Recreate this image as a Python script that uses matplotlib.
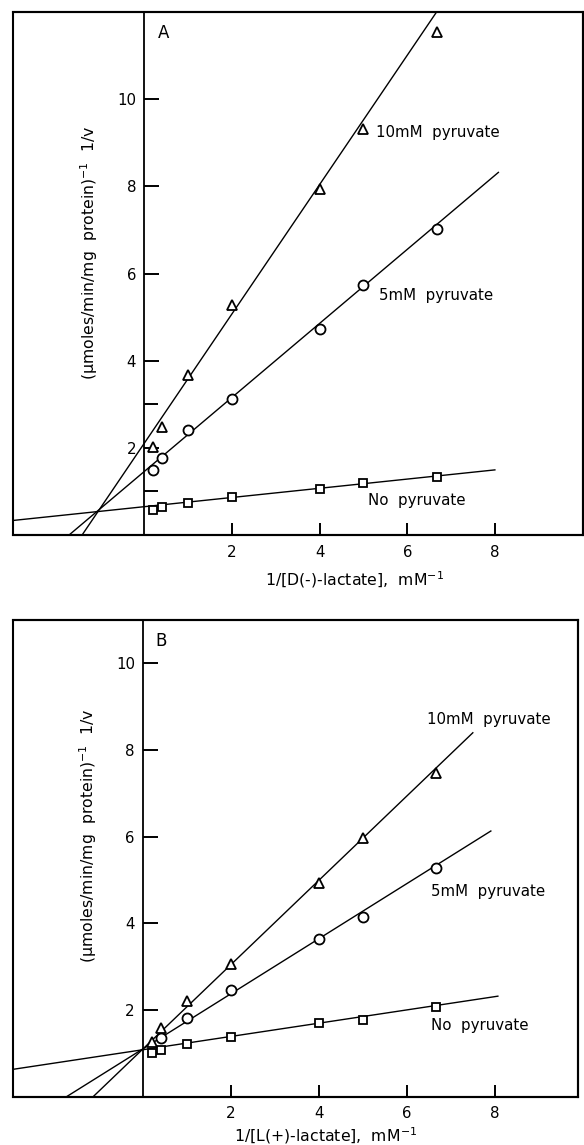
import matplotlib
matplotlib.use("Agg")
import matplotlib.pyplot as plt
import matplotlib.transforms as mtransforms
from matplotlib.patches import Rectangle
import numpy as np

plt.rcParams['font.family'] = ['DejaVu Sans']
plt.rcParams['mathtext.fontset'] = 'dejavusans'

# ---------------- data ----------------
# Panel A : D(-)-lactate
xA = [0.2, 0.4, 1, 2, 4, 5, 6.67]
A_none = [0.58, 0.65, 0.745, 0.87, 1.06, 1.19, 1.33]
A_5mM = [1.48, 1.77, 2.41, 3.11, 4.73, 5.73, 7.02]
A_10mM = [2.02, 2.48, 3.67, 5.27, 7.95, 9.31, 11.54]
A_slope = [0.1055, 0.849, 1.483]
A_intercept = [0.65, 1.46, 2.11]
A_line_start = [-3.0, -1.72, -1.42]
A_line_end = [8.0, 8.08, 6.67]

# Panel B : L(+)-lactate
xB = [0.2, 0.4, 1, 2, 4, 5, 6.67]
xB5 = [0.4, 1, 2, 4, 5, 6.67]
B_none = [1.0, 1.08, 1.22, 1.37, 1.69, 1.78, 2.08]
B_5mM = [1.35, 1.82, 2.46, 3.64, 4.15, 5.27]
B_10mM = [1.27, 1.58, 2.21, 3.06, 4.93, 5.96, 7.48]
B_slope = [0.153, 0.635, 0.972]
B_intercept = [1.085, 1.108, 1.108]
B_line_start = [-3.0, -1.745, -1.14]
B_line_end = [8.07, 7.91, 7.50]

series_labels = ["No  pyruvate", "5mM  pyruvate", "10mM  pyruvate"]
xticks = [2, 4, 6, 8]
yticks = [2, 4, 6, 8, 10]
ylabel = "(μmoles/min/mg  protein)$^{-1}$  1/v"

FS = 10.8
LFS = 11.3
fig = plt.figure(figsize=(5.84, 11.45), dpi=100)


def panel(rect, xlim, ylim, xs_list, ys_list, slopes, inters, starts, ends,
          letter, letter_pos, label_pos, xlabel, xlabel_x, xlabel_y,
          ylabel_pos, minor_y):
    ax = fig.add_axes(rect)
    ax.set_xlim(*xlim)
    ax.set_ylim(*ylim)
    ax.spines['left'].set_position(('data', 0))
    ax.spines['left'].set_linewidth(1.3)
    for s in ['top', 'right', 'bottom']:
        ax.spines[s].set_linewidth(1.5)
    ax.add_patch(Rectangle((0, 0), 1, 1, transform=ax.transAxes, fill=False,
                           lw=1.5, ec='black', clip_on=False, zorder=5))
    ax.set_xticks(xticks)
    ax.set_yticks(yticks)
    if minor_y:
        ax.set_yticks(minor_y, minor=True)
    ax.tick_params(axis='x', direction='in', length=9, width=1.4, pad=7,
                   labelsize=FS, top=False)
    ax.tick_params(axis='y', direction='in', length=11, width=1.4, pad=6,
                   labelsize=FS, right=False)
    ax.tick_params(axis='y', which='minor', direction='in', length=10,
                   width=1.4)
    markers = ['s', 'o', '^']
    msizes = [5.2, 7.2, 7.6]
    for i in range(3):
        lx = np.array([starts[i], ends[i]])
        ax.plot(lx, slopes[i] * lx + inters[i], color='black', lw=1.0,
                zorder=2)
        ax.plot(xs_list[i], ys_list[i], linestyle='none', marker=markers[i],
                ms=msizes[i], mfc='white', mec='black', mew=1.3, zorder=3,
                clip_on=False)
        ax.text(label_pos[i][0], label_pos[i][1], series_labels[i],
                fontsize=FS, ha='left', va='baseline')
    ax.text(letter_pos[0], letter_pos[1], letter, fontsize=12, ha='left',
            va='baseline')
    trans = mtransforms.blended_transform_factory(ax.transData, ax.transAxes)
    ax.text(xlabel_x, xlabel_y, xlabel, transform=trans, fontsize=LFS,
            ha='center', va='baseline')
    ax.text(ylabel_pos[0], ylabel_pos[1], ylabel, rotation=90, fontsize=LFS,
            ha='center', va='center')
    return ax


panel([13 / 584, 1 - 535 / 1145, (582.5 - 13) / 584, (535 - 12) / 1145],
      (-3, 10), (0, 12),
      [xA, xA, xA], [A_none, A_5mM, A_10mM],
      A_slope, A_intercept, A_line_start, A_line_end,
      "A", (0.30, 11.40),
      [(5.1, 0.68), (5.35, 5.40), (5.29, 9.14)],
      "1/[D(-)-lactate],  mM$^{-1}$", 4.8, -0.097,
      (-1.27, 6.48), [1, 3])

panel([12.7 / 584, 1 - 1096.7 / 1145, (578.3 - 12.7) / 584,
       (1096.7 - 620) / 1145],
      (-2.97, 9.9), (0, 11),
      [xB, xB5, xB], [B_none, B_5mM, B_10mM],
      B_slope, B_intercept, B_line_start, B_line_end,
      "B", (0.27, 10.41),
      [(6.55, 1.55), (6.55, 4.63), (6.46, 8.59)],
      "1/[L(+)-lactate],  mM$^{-1}$", 4.14, -0.0944,
      (-1.26, 6.03), None)

fig.savefig("out.png", dpi=100)
